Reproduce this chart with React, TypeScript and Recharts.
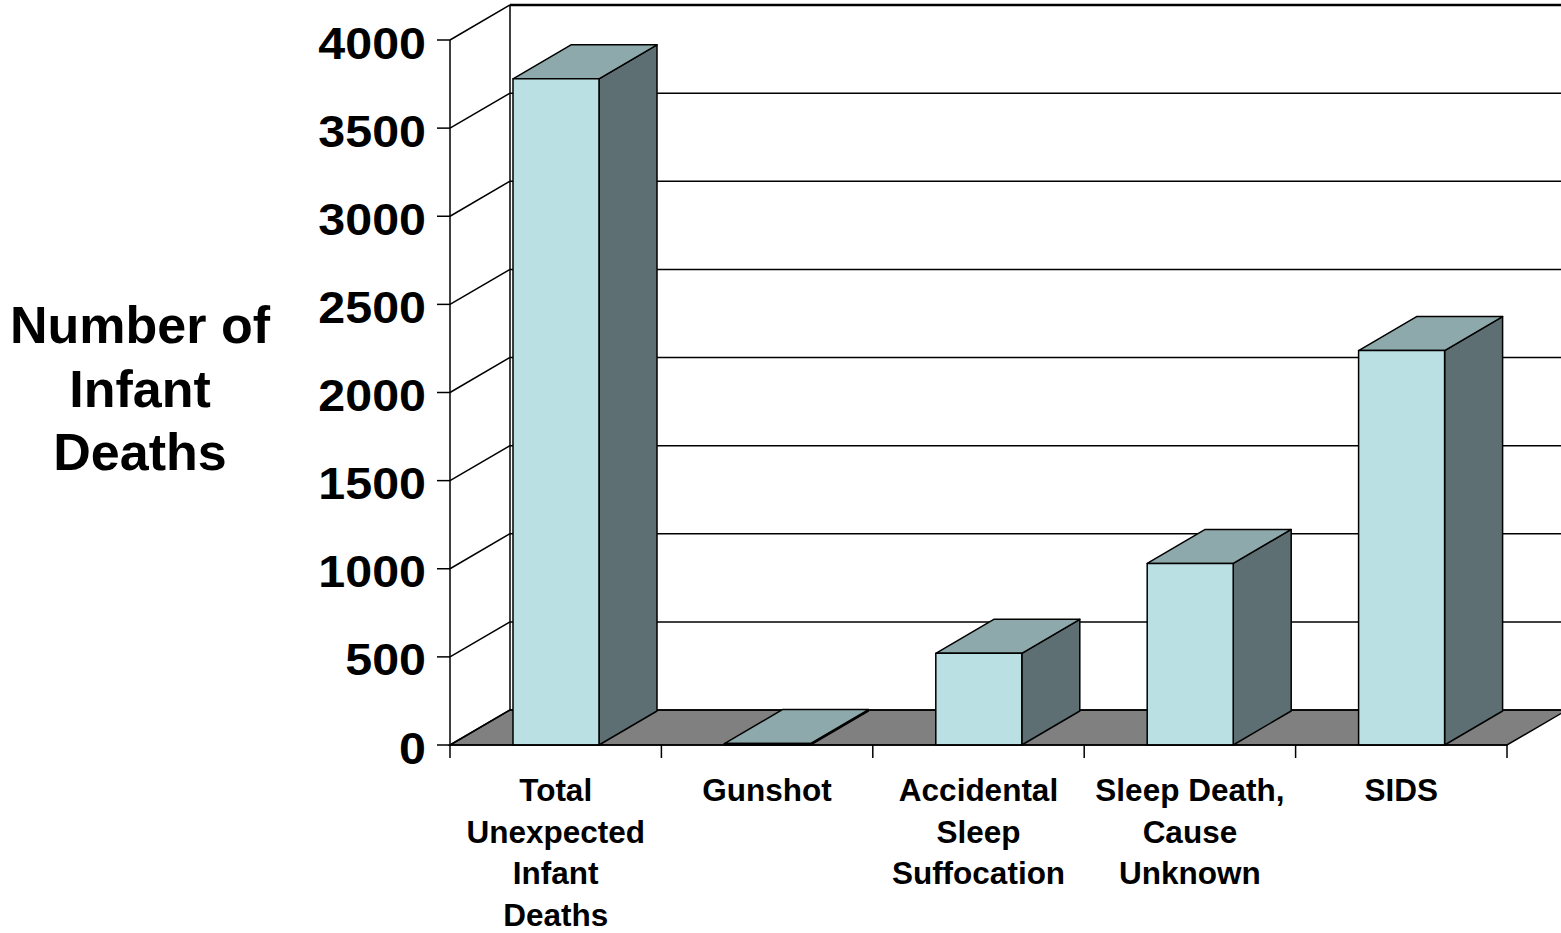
import React from 'react';
import { BarChart, Bar, XAxis, YAxis, CartesianGrid } from 'recharts';

// ---- data ----
const categories = [
  'Total Unexpected Infant Deaths',
  'Gunshot',
  'Accidental Sleep Suffocation',
  'Sleep Death, Cause Unknown',
  'SIDS',
];
const categoryLines = [
  ['Total', 'Unexpected', 'Infant', 'Deaths'],
  ['Gunshot'],
  ['Accidental', 'Sleep', 'Suffocation'],
  ['Sleep Death,', 'Cause', 'Unknown'],
  ['SIDS'],
];
const deaths = [3780, 8, 520, 1030, 2238];
const yTicks = [0, 500, 1000, 1500, 2000, 2500, 3000, 3500, 4000];
const yTitleLines = ['Number of', 'Infant', 'Deaths'];

const data = categories.map((name, i) => ({ name, value: deaths[i], lines: categoryLines[i] }));

// ---- style ----
const FONT = '"Liberation Sans", Arial, Helvetica, sans-serif';
const FRONT = '#BBE0E3';
const TOP = '#8EA9AB';
const SIDE = '#5D6F72';
const FLOOR = '#808080';
const WALL_DX = 60;
const WALL_DY = 35;
const BAR_DX = 58;
const BAR_DY = 34;

const renderGridLine = (props: any) => {
  const { x1, y1, x2, index } = props;
  const top = props.y ?? 0;
  const bottom = (props.y ?? 0) + (props.height ?? 0);
  const isZero = Math.abs(y1 - bottom) < 0.5;
  const isTop = Math.abs(y1 - top) < 0.5;
  return (
    <g key={`gl-${index}`}>
      {isZero && (
        <>
          <polygon
            points={`${x1},${y1} ${x2},${y1} ${x2 + WALL_DX},${y1 - WALL_DY} ${x1 + WALL_DX},${y1 - WALL_DY}`}
            fill={FLOOR}
            stroke="#000"
            strokeWidth={1.5}
          />
          <line
            x1={x1 + WALL_DX}
            y1={top - WALL_DY}
            x2={x1 + WALL_DX}
            y2={bottom - WALL_DY}
            stroke="#000"
            strokeWidth={1.5}
          />
        </>
      )}
      <line
        x1={x1 + WALL_DX}
        y1={y1 - WALL_DY}
        x2={x2 + WALL_DX}
        y2={y1 - WALL_DY}
        stroke="#000"
        strokeWidth={isTop ? 2.5 : 1.5}
      />
      <line x1={x1} y1={y1} x2={x1 + WALL_DX} y2={y1 - WALL_DY} stroke="#000" strokeWidth={1.5} />
    </g>
  );
};

const Box3D = (props: any) => {
  const { x, y, width, height } = props;
  const h = Math.max(height, 0);
  const t = y;
  const b = y + h;
  return (
    <g stroke="#000" strokeWidth={1.5} strokeLinejoin="round">
      <polygon
        points={`${x + width},${b} ${x + width + BAR_DX},${b - BAR_DY} ${x + width + BAR_DX},${t - BAR_DY} ${x + width},${t}`}
        fill={SIDE}
      />
      <polygon
        points={`${x},${t} ${x + BAR_DX},${t - BAR_DY} ${x + width + BAR_DX},${t - BAR_DY} ${x + width},${t}`}
        fill={TOP}
      />
      <rect x={x} y={t} width={width} height={h} fill={FRONT} />
    </g>
  );
};

const YTick = (props: any) => {
  const { x, y, payload } = props;
  return (
    <g transform={`translate(${x},${y}) scale(1.1,1)`}>
      <text
        x={0}
        y={18.5}
        textAnchor="end"
        fontFamily={FONT}
        fontWeight="bold"
        fontSize={44}
        fill="#000"
      >
        {payload.value}
      </text>
    </g>
  );
};

const XTick = (props: any) => {
  const { x, y, payload, index, visibleTicksCount } = props;
  const half = payload.offset ?? 105.7;
  const lines: string[] = categoryLines[index] ?? [String(payload.value)];
  const isLast = index === (visibleTicksCount ?? categories.length) - 1;
  return (
    <g>
      <line x1={x - half} y1={y} x2={x - half} y2={y + 13} stroke="#000" strokeWidth={1.5} />
      {isLast && <line x1={x + half} y1={y} x2={x + half} y2={y + 13} stroke="#000" strokeWidth={1.5} />}
      <text textAnchor="middle" fontFamily={FONT} fontWeight="bold" fontSize={31.5} fill="#000">
        {lines.map((ln, i) => (
          <tspan key={i} x={x} y={y + 56 + i * 41.5}>
            {ln}
          </tspan>
        ))}
      </text>
    </g>
  );
};

const YTitle = () => (
  <text textAnchor="middle" fontFamily={FONT} fontWeight="bold" fontSize={52} fill="#000">
    {yTitleLines.map((ln, i) => (
      <tspan key={i} x={140} y={343 + i * 63.5}>
        {ln}
      </tspan>
    ))}
  </text>
);

export default function App() {
  return (
    <div style={{ position: 'absolute', left: 0, top: 0, width: 1561, height: 933, background: '#fff' }}>
      <BarChart
        width={1561}
        height={933}
        data={data}
        margin={{ top: 40, right: 54, left: 0, bottom: 0 }}
        barSize={86}
      >
        <CartesianGrid vertical={false} horizontal={renderGridLine as any} stroke="#000" />
        <YAxis
          width={450}
          domain={[0, 4000]}
          ticks={yTicks}
          interval={0}
          tickSize={13}
          tickMargin={11}
          axisLine={{ stroke: '#000', strokeWidth: 1.5 }}
          tickLine={{ stroke: '#000', strokeWidth: 1.5 }}
          tick={<YTick />}
          label={{ content: () => <YTitle /> }}
        />
        <XAxis
          dataKey="name"
          height={188}
          interval={0}
          tickSize={0}
          tickMargin={0}
          tickLine={false}
          axisLine={{ stroke: '#000', strokeWidth: 1.5 }}
          tick={<XTick />}
        />
        <Bar dataKey="value" shape={<Box3D />} isAnimationActive={false} />
      </BarChart>
    </div>
  );
}
